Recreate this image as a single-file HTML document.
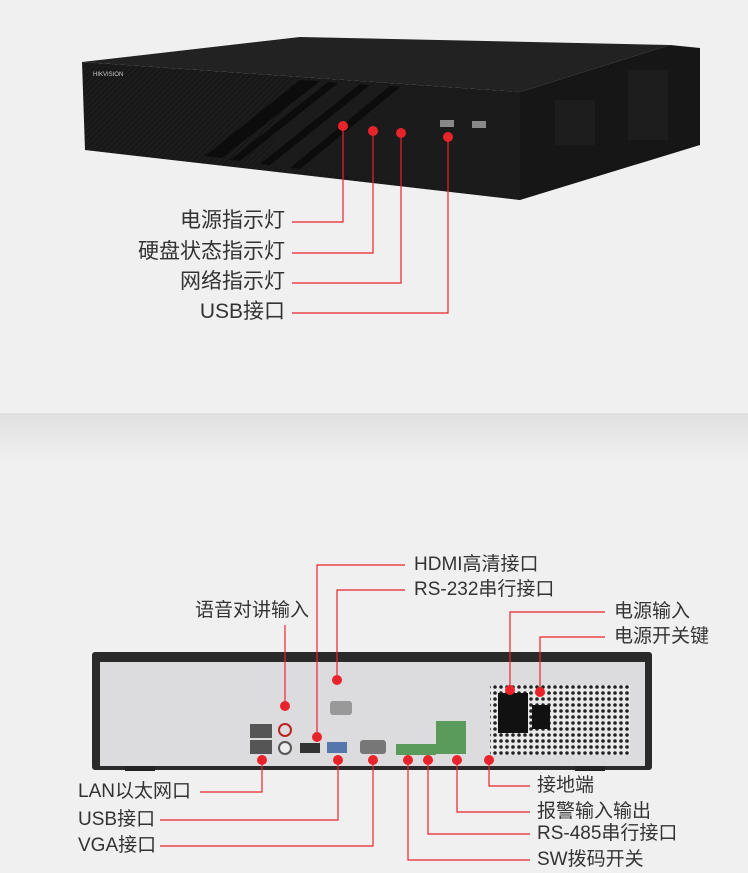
<!DOCTYPE html>
<html><head><meta charset="utf-8"><style>
html,body{margin:0;padding:0;background:#f0f0f0;}
body{width:748px;height:873px;overflow:hidden;position:relative;font-family:"Liberation Sans","Noto Sans CJK SC",sans-serif;}
.t{position:absolute;font-size:19px;color:#333;white-space:nowrap;line-height:22px;}
svg{position:absolute;left:0;top:0;}
</style></head><body>
<svg width="748" height="873" viewBox="0 0 748 873">
<defs>
<linearGradient id="sh" x1="0" y1="0" x2="0" y2="1"><stop offset="0" stop-color="#e0e0e0"/><stop offset="1" stop-color="#f0f0f0"/></linearGradient>
<pattern id="st" width="4" height="4" patternUnits="userSpaceOnUse" patternTransform="rotate(45)"><rect width="4" height="4" fill="#181818"/><rect width="1" height="4" fill="#202020"/></pattern>
<pattern id="hole" width="6" height="6" patternUnits="userSpaceOnUse"><rect width="6" height="6" fill="#e8e8e8"/><circle cx="3" cy="3" r="1.8" fill="#222"/></pattern>
</defs>
<rect x="0" y="413" width="748" height="50" fill="url(#sh)"/>
<!-- top device -->
<polygon points="82,62 300,37 670,45 520,92" fill="#222"/>
<polygon points="520,92 670,45 700,48 700,145 520,200" fill="#161616"/>
<polygon points="82,62 520,92 520,200 85,150" fill="url(#st)"/>
<polygon points="295,80 520,92 520,200 265,165" fill="#1b1b1b"/>
<polygon points="300,80 320,81 222,158 205,156" fill="#0c0c0c"/>
<polygon points="328,82 338,83 240,161 230,160" fill="#0c0c0c"/>
<polygon points="360,84 370,85 270,165 260,164" fill="#0c0c0c"/>
<polygon points="390,86 400,87 300,169 290,168" fill="#0c0c0c"/>
<rect x="628" y="70" width="40" height="70" fill="#1d1d1d"/>
<rect x="555" y="100" width="40" height="45" fill="#1d1d1d"/>
<text x="93" y="76" font-size="6" fill="#ccc" font-family="Liberation Sans">HIKVISION</text>
<rect x="440" y="120" width="14" height="7" fill="#888"/><rect x="472" y="121" width="14" height="7" fill="#888"/>
<g stroke="#e8242a" stroke-width="1.2" fill="none">
<polyline points="343,126 343,222 292,222"/>
<polyline points="373,131 373,253 292,253"/>
<polyline points="401,133 401,283 292,283"/>
<polyline points="448,137 448,313 292,313"/>
</g>
<g fill="#e8242a"><circle cx="343" cy="126" r="5"/><circle cx="373" cy="131" r="5"/><circle cx="401" cy="133" r="5"/><circle cx="448" cy="137" r="5"/></g>
<!-- back device -->
<rect x="92" y="652" width="560" height="118" rx="3" fill="#2a2a2a"/>
<rect x="100" y="662" width="545" height="104" fill="#dcdcde"/>
<rect x="125" y="766" width="30" height="5" fill="#222"/><rect x="575" y="766" width="30" height="5" fill="#222"/>
<rect x="490" y="685" width="140" height="70" fill="url(#hole)"/>
<rect x="498" y="693" width="30" height="40" fill="#111"/><rect x="532" y="705" width="18" height="24" fill="#111"/>
<rect x="250" y="724" width="22" height="14" fill="#555"/><rect x="250" y="740" width="22" height="14" fill="#555"/>
<circle cx="285" cy="730" r="6" fill="#ddd" stroke="#b22" stroke-width="2"/><circle cx="285" cy="748" r="6" fill="#eee" stroke="#555" stroke-width="2"/>
<rect x="300" y="743" width="20" height="10" fill="#333"/>
<rect x="327" y="742" width="20" height="11" fill="#5577aa"/>
<rect x="360" y="740" width="26" height="14" rx="3" fill="#777"/>
<rect x="330" y="701" width="22" height="14" rx="3" fill="#999"/>
<rect x="396" y="744" width="40" height="11" fill="#5a9a5a"/>
<rect x="436" y="721" width="30" height="33" fill="#5a9a5a"/>
<g stroke="#e8242a" stroke-width="1.2" fill="none">
<polyline points="285,706 285,625"/>
<polyline points="317,737 317,565 405,565"/>
<polyline points="337,680 337,590 405,590"/>
<polyline points="510,690 510,612 605,612"/>
<polyline points="540,692 540,637 605,637"/>
<polyline points="262,760 262,792 200,792"/>
<polyline points="338,760 338,820 160,820"/>
<polyline points="373,760 373,846 160,846"/>
<polyline points="408,760 408,860 530,860"/>
<polyline points="428,760 428,834 530,834"/>
<polyline points="457,760 457,812 530,812"/>
<polyline points="489,760 489,786 530,786"/>
</g>
<g fill="#e8242a">
<circle cx="285" cy="706" r="5"/><circle cx="317" cy="737" r="5"/><circle cx="337" cy="680" r="5"/>
<circle cx="510" cy="690" r="5"/><circle cx="540" cy="692" r="5"/>
<circle cx="262" cy="760" r="5"/><circle cx="338" cy="760" r="5"/><circle cx="373" cy="760" r="5"/>
<circle cx="408" cy="760" r="5"/><circle cx="428" cy="760" r="5"/><circle cx="457" cy="760" r="5"/><circle cx="489" cy="760" r="5"/>
</g>
</svg>
<div class="t" style="right:463px;top:210px;font-size:21px;">电源指示灯</div>
<div class="t" style="right:463px;top:241px;font-size:21px;">硬盘状态指示灯</div>
<div class="t" style="right:463px;top:271px;font-size:21px;">网络指示灯</div>
<div class="t" style="right:463px;top:301px;font-size:21px;">USB接口</div>
<div class="t" style="left:414px;top:554px;">HDMI高清接口</div>
<div class="t" style="left:414px;top:579px;">RS-232串行接口</div>
<div class="t" style="left:195px;top:600px;">语音对讲输入</div>
<div class="t" style="left:614px;top:601px;">电源输入</div>
<div class="t" style="left:614px;top:626px;">电源开关键</div>
<div class="t" style="left:78px;top:781px;">LAN以太网口</div>
<div class="t" style="left:78px;top:809px;">USB接口</div>
<div class="t" style="left:78px;top:835px;">VGA接口</div>
<div class="t" style="left:537px;top:775px;">接地端</div>
<div class="t" style="left:537px;top:801px;">报警输入输出</div>
<div class="t" style="left:537px;top:823px;">RS-485串行接口</div>
<div class="t" style="left:537px;top:849px;">SW拨码开关</div>
</body></html>
